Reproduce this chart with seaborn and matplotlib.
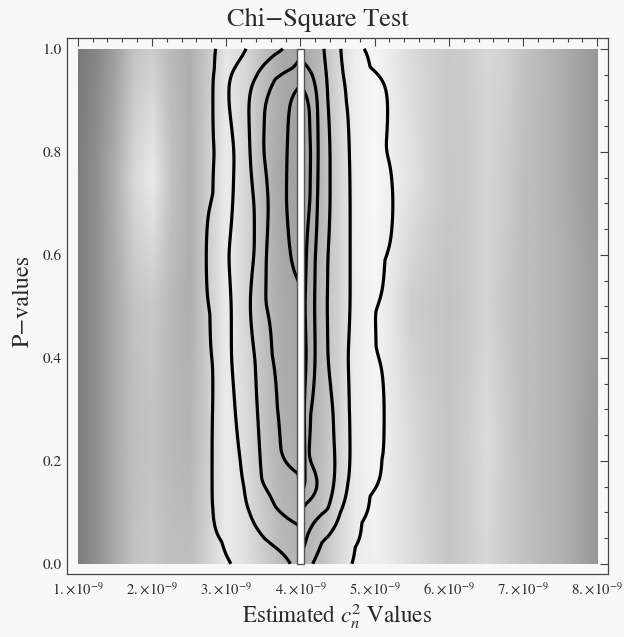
import numpy as np
import matplotlib
matplotlib.use("Agg")
import matplotlib.pyplot as plt
import seaborn as sns
from matplotlib.ticker import FixedLocator, FuncFormatter

# ---------------------------------------------------------------------------
# Data
# ---------------------------------------------------------------------------
# True turbulence strength marked by the white bar (units of 1e-9)
true_cn2 = 4.0

# Axis ticks
cn2_ticks = [1, 2, 3, 4, 5, 6, 7, 8]                 # units of 1e-9
cn2_minor = [v / 5 for v in range(5, 41)]            # every 0.2e-9
p_ticks = [0.0, 0.2, 0.4, 0.6, 0.8, 1.0]
p_minor = [v / 20 for v in range(0, 21)]

# P-value rows on which the contour crossings are tabulated
p_rows = [0.0, 0.05, 0.1, 0.15, 0.2, 0.3, 0.4, 0.5, 0.6, 0.7, 0.8, 0.9, 0.95, 1.0]

# Estimated Cn^2 (units of 1e-9) where each contour level is crossed, left side
nan = np.nan
left_level1 = [3.15, 2.94, 2.82, 2.81, 2.81, 2.82, 2.82, 2.78, 2.73, 2.82, 2.86, 2.82, 2.84, 2.89]
left_level2 = [3.92, 3.52, 3.31, 3.24, 3.19, 3.12, 3.07, 3.07, 3.03, 3.09, 3.11, 3.03, 3.04, 3.32]
left_level3 = [nan, nan, 3.66, 3.48, 3.46, 3.42, 3.39, 3.32, 3.38, 3.38, 3.32, 3.30, 3.40, 3.89]
left_level4 = [nan, nan, nan, nan, 3.74, 3.69, 3.62, 3.52, 3.54, 3.57, 3.50, 3.52, 3.66, nan]
left_level5 = [nan, nan, nan, nan, nan, nan, nan, nan, 3.86, 3.81, 3.82, 3.85, nan, nan]

# ... and right side
right_level1 = [4.63, 4.74, 4.83, 4.94, 5.10, 5.13, 5.02, 4.98, 5.14, 5.25, 5.12, 5.18, 4.94, 4.72]
right_level2 = [4.10, 4.29, 4.54, 4.64, 4.67, 4.66, 4.64, 4.67, 4.67, 4.67, 4.66, 4.62, 4.58, 4.54]
right_level3 = [nan, 4.10, 4.37, 4.46, 4.47, 4.44, 4.37, 4.36, 4.37, 4.40, 4.40, 4.37, 4.35, 4.31]
right_level4 = [nan, nan, nan, nan, 4.08, 4.14, 4.20, 4.19, 4.20, 4.23, 4.24, 4.23, 4.16, nan]
right_level5 = [nan, nan, nan, 4.08, 4.06, 4.05, 4.08, 4.06, 4.08, 4.13, 4.14, 4.12, nan, nan]

contour_levels = [1, 2, 3, 4, 5]

# Background density (gray level 0-255) on a coarse grid
shade_x = [1.0, 1.25, 1.5, 1.75, 2.0, 2.25, 2.5, 2.75, 3.0, 3.25, 3.5, 3.75, 4.0, 4.25,
           4.5, 4.75, 5.0, 5.25, 5.5, 5.75, 6.0, 6.25, 6.5, 6.75, 7.0, 7.25, 7.5, 7.75, 8.0]
shade_p = [0.0, 0.25, 0.5, 0.75, 1.0]
shade_p000 = [125, 145, 170, 195, 200, 190, 190, 210, 235, 225, 205, 185, 180, 190, 215,
              235, 240, 232, 220, 208, 198, 205, 215, 205, 195, 185, 178, 165, 152]
shade_p025 = [125, 145, 170, 190, 195, 185, 180, 205, 235, 220, 195, 175, 170, 185, 210,
              238, 245, 232, 218, 205, 198, 205, 220, 205, 190, 185, 178, 165, 152]
shade_p050 = [125, 145, 170, 195, 200, 185, 175, 205, 235, 215, 190, 170, 165, 185, 210,
              238, 245, 228, 205, 200, 195, 202, 212, 200, 190, 185, 178, 168, 155]
shade_p075 = [125, 145, 175, 215, 235, 195, 175, 205, 235, 215, 185, 165, 160, 180, 210,
              240, 248, 238, 226, 210, 200, 202, 212, 205, 190, 185, 175, 163, 152]
shade_p100 = [120, 135, 160, 195, 205, 185, 175, 200, 230, 215, 190, 170, 165, 185, 215,
              240, 245, 232, 218, 208, 202, 205, 215, 210, 195, 185, 175, 163, 150]

# ---------------------------------------------------------------------------
# Style
# ---------------------------------------------------------------------------
sns.set_theme(style="white")
bg = "#f8f8f8"
ink = "#2a2a2a"
plt.rcParams.update({
    "font.family": ["STIXGeneral", "DejaVu Serif"],
    "mathtext.fontset": "stix",
    "axes.edgecolor": "#444444",
    "axes.linewidth": 0.9,
    "text.color": ink,
    "axes.labelcolor": ink,
    "xtick.color": ink,
    "ytick.color": ink,
})

W, H = 624, 637
fig = plt.figure(figsize=(W / 100, H / 100), dpi=100, facecolor=bg)
ax = fig.add_axes([67.3 / W, 62.7 / H, 540.4 / W, 536 / H], facecolor=bg)

# ---------------------------------------------------------------------------
# Density shading
# ---------------------------------------------------------------------------
xf = np.linspace(1.0, 8.0, 701)
pf = np.linspace(0.0, 1.0, 301)
shade = np.array([shade_p000, shade_p025, shade_p050, shade_p075, shade_p100], float)
shade_x_fine = np.array([np.interp(xf, shade_x, row) for row in shade])
shade_fine = np.array([np.interp(pf, shade_p, col) for col in shade_x_fine.T]).T
ax.imshow(shade_fine, extent=[1e-9, 8e-9, 0, 1], origin="lower", aspect="auto",
          cmap="gray", vmin=0, vmax=255, interpolation="bilinear", zorder=1)

# ---------------------------------------------------------------------------
# Contour field built from the tabulated level crossings
# ---------------------------------------------------------------------------
left_levels = [left_level1, left_level2, left_level3, left_level4, left_level5]
right_levels = [right_level1, right_level2, right_level3, right_level4, right_level5]
rows = []
for i in range(len(p_rows)):
    xs, vs = [1.0], [0.0]
    top = 0
    for k, arr in enumerate(left_levels, start=1):
        if not np.isnan(arr[i]):
            xs.append(arr[i]); vs.append(k); top = k
    xs.append(true_cn2 - 0.03); vs.append(top + 0.5)
    rx, rv = [], []
    top = 0
    for k, arr in enumerate(right_levels, start=1):
        if not np.isnan(arr[i]):
            rx.append(arr[i]); rv.append(k); top = k
    xs.append(true_cn2 + 0.03); vs.append(top + 0.5)
    xs += rx[::-1] + [8.0]
    vs += rv[::-1] + [0.0]
    rows.append(np.interp(xf, xs, vs))
Z = np.array(rows)
Zf = np.array([np.interp(pf, p_rows, col) for col in Z.T]).T

# gentle smoothing along the P-value axis
sig = 6.0
kx = np.arange(-20, 21)
kern = np.exp(-0.5 * (kx / sig) ** 2)
kern /= kern.sum()
pad = np.pad(Zf, ((20, 20), (0, 0)), mode="edge")
Zs = np.apply_along_axis(lambda c: np.convolve(c, kern, mode="valid"), 0, pad)

ax.contour(xf * 1e-9, pf, Zs, levels=contour_levels, colors="black",
           linewidths=2.3, zorder=3)

# White bar at the true value
ax.bar([true_cn2 * 1e-9], [1.0], width=0.095e-9, bottom=0.0, color="white",
       edgecolor="#555555", linewidth=1.0, zorder=4)

# ---------------------------------------------------------------------------
# Axes, ticks, labels
# ---------------------------------------------------------------------------
ax.set_xlim(0.86e-9, 8.14e-9)
ax.set_ylim(-0.0204, 1.0204)
ax.xaxis.set_major_locator(FixedLocator([v * 1e-9 for v in cn2_ticks]))
ax.xaxis.set_minor_locator(FixedLocator([v * 1e-9 for v in cn2_minor]))
ax.yaxis.set_major_locator(FixedLocator(p_ticks))
ax.yaxis.set_minor_locator(FixedLocator(p_minor))
ax.xaxis.set_major_formatter(FuncFormatter(
    lambda v, pos: r"$%d.\!\times\!10^{-9}$" % round(v * 1e9)))
ax.yaxis.set_major_formatter(FuncFormatter(lambda v, pos: "%.1f" % v))
ax.tick_params(which="both", direction="in", top=True, right=True,
               color="#444444", width=0.8)
ax.tick_params(which="major", length=6.0)
ax.tick_params(axis="x", which="major", labelsize=10.5, pad=5)
ax.tick_params(axis="y", which="major", labelsize=11, pad=4)
ax.tick_params(which="minor", length=3.0)
for s in ax.spines.values():
    s.set_visible(True)

fig.text(318 / W, 1 - 26 / H, "Chi\u2212Square Test", fontsize=19,
         ha="center", va="baseline")
ax.set_xlabel(r"Estimated $c_n^2$ Values", fontsize=16.7, labelpad=3)
ax.set_ylabel("P\u2212values", fontsize=17.5)
ax.yaxis.set_label_coords(-0.063, 0.51)

fig.savefig("out.png", dpi=100, facecolor=bg)
